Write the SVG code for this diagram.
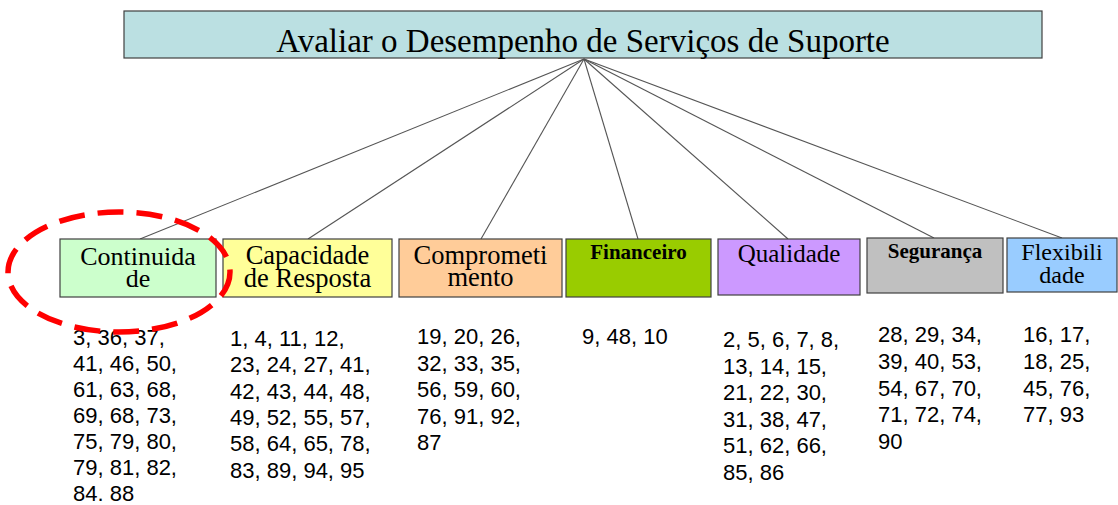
<svg xmlns="http://www.w3.org/2000/svg" width="1118" height="505" viewBox="0 0 1118 505">
<style>
.box{stroke:#404040;stroke-width:1.2}
.lbl{font-family:"Liberation Serif","Times New Roman",serif;fill:#000;text-anchor:middle}
.blbl{font-family:"Liberation Serif","Times New Roman",serif;font-weight:bold;fill:#000;text-anchor:middle;font-size:21px}
.num{font-family:"Liberation Sans",Arial,sans-serif;font-size:22px;fill:#000}
.conn line{stroke:#555;stroke-width:1.1}
</style>
<rect width="1118" height="505" fill="#fff"/>
<g id="root">
<rect class="box" x="124" y="11" width="918" height="47" fill="#bbe0e2" stroke="#222"/>
<text class="lbl" x="583" y="52" font-size="33">Avaliar o Desempenho de Serviços de Suporte</text>
</g>
<g class="conn" id="connectors">
<line x1="584" y1="59" x2="140" y2="239"/>
<line x1="584" y1="59" x2="308" y2="239"/>
<line x1="584" y1="59" x2="481" y2="239"/>
<line x1="584" y1="59" x2="638" y2="239"/>
<line x1="584" y1="59" x2="788" y2="239"/>
<line x1="584" y1="59" x2="934" y2="238"/>
<line x1="584" y1="59" x2="1062" y2="238"/>
</g>
<g id="continuidade">
<rect class="box" x="60" y="239" width="156" height="58" fill="#ccffcc"/>
<text class="lbl" x="138" y="265" font-size="26">Continuida</text>
<text class="lbl" x="138" y="287" font-size="26">de</text>
<text class="num" x="73" y="345"><tspan x="73">3, 36, 37,</tspan><tspan x="73" dy="26">41, 46, 50,</tspan><tspan x="73" dy="26">61, 63, 68,</tspan><tspan x="73" dy="26">69, 68, 73,</tspan><tspan x="73" dy="26">75, 79, 80,</tspan><tspan x="73" dy="26">79, 81, 82,</tspan><tspan x="73" dy="26">84. 88</tspan></text>
</g>
<g id="capacidade">
<rect class="box" x="223" y="239" width="169" height="58" fill="#ffff99"/>
<text class="lbl" x="307.5" y="264" font-size="26.5">Capacidade</text>
<text class="lbl" x="307.5" y="287" font-size="26.5">de Resposta</text>
<text class="num" x="230" y="346"><tspan x="230">1, 4, 11, 12,</tspan><tspan x="230" dy="26.3">23, 24, 27, 41,</tspan><tspan x="230" dy="26.3">42, 43, 44, 48,</tspan><tspan x="230" dy="26.3">49, 52, 55, 57,</tspan><tspan x="230" dy="26.3">58, 64, 65, 78,</tspan><tspan x="230" dy="26.3">83, 89, 94, 95</tspan></text>
</g>
<g id="comprometimento">
<rect class="box" x="399" y="239" width="163" height="58" fill="#ffcc99"/>
<text class="lbl" x="480.5" y="264" font-size="26.5">Comprometi</text>
<text class="lbl" x="480.5" y="286" font-size="26.5">mento</text>
<text class="num" x="417" y="344"><tspan x="417">19, 20, 26,</tspan><tspan x="417" dy="26.6">32, 33, 35,</tspan><tspan x="417" dy="26.6">56, 59, 60,</tspan><tspan x="417" dy="26.6">76, 91, 92,</tspan><tspan x="417" dy="26.6">87</tspan></text>
</g>
<g id="financeiro">
<rect class="box" x="566" y="239" width="145" height="58" fill="#99cc00"/>
<text class="blbl" x="638.5" y="259">Financeiro</text>
<text class="num" x="582" y="344">9, 48, 10</text>
</g>
<g id="qualidade">
<rect class="box" x="718" y="239" width="142" height="56" fill="#cc99ff"/>
<text class="lbl" x="789" y="262" font-size="25">Qualidade</text>
<text class="num" x="723" y="347"><tspan x="723">2, 5, 6, 7, 8,</tspan><tspan x="723" dy="26.6">13, 14, 15,</tspan><tspan x="723" dy="26.6">21, 22, 30,</tspan><tspan x="723" dy="26.6">31, 38, 47,</tspan><tspan x="723" dy="26.6">51, 62, 66,</tspan><tspan x="723" dy="26.6">85, 86</tspan></text>
</g>
<g id="seguranca">
<rect class="box" x="867" y="238" width="136" height="55" fill="#c0c0c0"/>
<text class="blbl" x="935" y="258">Segurança</text>
<text class="num" x="878" y="342"><tspan x="878">28, 29, 34,</tspan><tspan x="878" dy="26.8">39, 40, 53,</tspan><tspan x="878" dy="26.8">54, 67, 70,</tspan><tspan x="878" dy="26.8">71, 72, 74,</tspan><tspan x="878" dy="26.8">90</tspan></text>
</g>
<g id="flexibilidade">
<rect class="box" x="1007" y="238" width="110" height="54" fill="#99ccff"/>
<text class="lbl" x="1062" y="260" font-size="24">Flexibili</text>
<text class="lbl" x="1062" y="283" font-size="24">dade</text>
<text class="num" x="1023" y="342"><tspan x="1023">16, 17,</tspan><tspan x="1023" dy="26.8">18, 25,</tspan><tspan x="1023" dy="26.8">45, 76,</tspan><tspan x="1023" dy="26.8">77, 93</tspan></text>
</g>
<g id="highlight">
<ellipse cx="119" cy="272" rx="111" ry="60" fill="none" stroke="#ff0000" stroke-width="5.5" stroke-dasharray="26 13"/>
</g>
</svg>
